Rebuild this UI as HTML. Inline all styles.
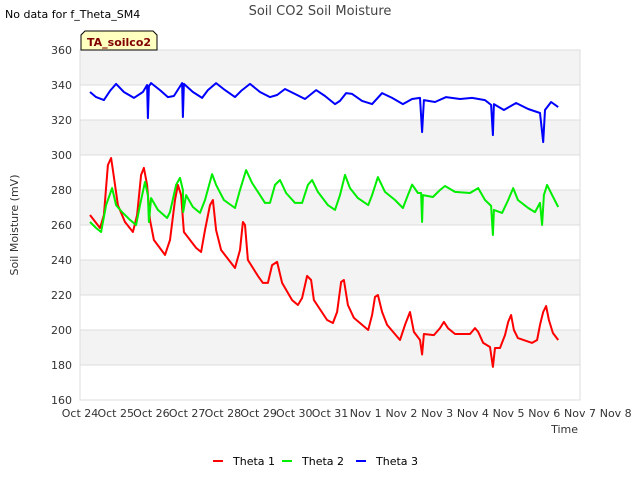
<!DOCTYPE html>
<html><head><meta charset="utf-8"><style>
body{margin:0;background:#fff;font-family:"Liberation Sans","DejaVu Sans",sans-serif}
svg text{font-family:"DejaVu Sans","Liberation Sans",sans-serif}
</style></head><body>
<svg id="c" width="640" height="480" xmlns="http://www.w3.org/2000/svg">
<rect width="640" height="480" fill="#fff"/>
<text x="5" y="18" font-size="11" fill="#000">No data for f_Theta_SM4</text>
<text x="320" y="15" font-size="13" fill="#444" text-anchor="middle">Soil CO2 Soil Moisture</text>
<g id="grid"></g>
<g id="series"></g>
<text transform="translate(18,225) rotate(-90)" font-size="11" fill="#333" text-anchor="middle">Soil Moisture (mV)</text>
<text x="578" y="433" font-size="11" fill="#333" text-anchor="end">Time</text>
<g>
<path d="M81,50 L81,35 L85,31 L153,31 L157,35 L157,50 Z" fill="#ffffc0" stroke="#000" stroke-width="1"/>
<text x="87" y="46" font-size="11" font-weight="bold" fill="#800000">TA_soilco2</text>
</g>
<g id="legend"></g>
</svg>
<script>
const yTicks=[160,180,200,220,240,260,280,300,320,340,360];
const xTickLabels=["Oct 24","Oct 25","Oct 26","Oct 27","Oct 28","Oct 29","Oct 30","Oct 31","Nov 1","Nov 2","Nov 3","Nov 4","Nov 5","Nov 6","Nov 7","Nov 8"];
const seriesNames=["Theta 1","Theta 2","Theta 3"];
const t1=[0.28,0.56,0.67,0.78,0.87,0.92,1.06,1.26,1.48,1.60,1.71,1.79,1.88,1.96,2.07,2.38,2.52,2.66,2.74,2.83,2.91,3.25,3.39,3.50,3.64,3.72,3.81,3.95,4.34,4.48,4.56,4.62,4.70,4.98,5.12,5.26,5.38,5.52,5.66,5.94,6.10,6.22,6.36,6.47,6.55,6.92,7.08,7.20,7.31,7.39,7.50,7.67,8.07,8.18,8.26,8.34,8.46,8.60,8.96,9.10,9.24,9.35,9.52,9.58,9.63,9.91,10.08,10.19,10.30,10.50,10.92,11.06,11.15,11.29,11.48,11.56,11.62,11.76,11.90,11.99,12.07,12.15,12.26,12.66,12.80,12.88,12.97,13.05,13.13,13.24,13.39];
const v1=[265.7,258.3,265.7,294.3,298.3,291.4,271.4,261.7,256,265.7,288.6,292.6,282.9,262.9,251.4,242.9,251.4,274.3,282.9,277.1,256,246.9,244.6,257.1,271.4,274.3,257.1,245.7,235.4,245.7,261.7,260,240,230.9,226.9,226.9,237.1,238.9,226.9,217.1,214.3,218.3,230.9,228.6,217.1,205.7,204,210.3,227.4,228.6,214.3,206.9,200,208.6,218.9,220,210.3,202.9,194.3,202.9,210.3,198.9,194.3,186,197.7,197.1,201.1,204.6,201.1,197.7,197.7,201.1,198.9,192.6,190.3,178.9,189.7,189.7,197.1,204.6,208.6,200,195.4,192.6,194.3,202.9,210.3,213.7,205.7,198.3,194.3];
const t2=[0.28,0.45,0.59,0.73,0.90,1.01,1.18,1.40,1.57,1.68,1.82,1.90,1.93,1.99,2.18,2.44,2.52,2.69,2.80,2.88,2.89,2.97,3.16,3.36,3.50,3.70,3.81,4.03,4.34,4.48,4.65,4.82,5.04,5.18,5.32,5.46,5.60,5.77,6.02,6.22,6.38,6.50,6.66,6.94,7.14,7.28,7.42,7.56,7.78,8.07,8.18,8.34,8.54,8.82,9.04,9.18,9.30,9.46,9.55,9.58,9.60,9.88,10.08,10.22,10.50,10.92,11.15,11.34,11.51,11.56,11.59,11.82,11.99,12.13,12.26,12.55,12.74,12.88,12.94,12.99,13.08,13.22,13.39];
const v2=[261.7,258.3,256,271.4,281.1,271.4,267.4,262.9,260,271.4,284.6,277.1,261.7,275.4,268.6,264,267.4,282.9,286.9,280,267.4,277.1,270.3,266.9,274.3,289.1,282.9,274.3,269.7,280,291.4,284,277.1,272.6,272.6,282.9,285.7,278.3,272.6,272.6,282.9,285.7,278.9,271.4,268.6,277.1,288.6,281.1,275.4,271.4,277.1,287.4,278.9,274.3,269.7,277.1,283.1,278.3,278.3,261.7,277.1,276,280,282.3,278.9,278.3,281.1,274.3,270.9,254.3,268.6,266.9,274.3,281.1,274.3,269.7,267.4,272.6,260,277.1,282.9,277.1,270.3];
const t3=[0.28,0.45,0.67,0.84,1.01,1.23,1.51,1.76,1.88,1.90,1.93,1.99,2.24,2.46,2.63,2.86,2.88,2.91,3.16,3.42,3.58,3.81,4.06,4.34,4.51,4.76,5.04,5.32,5.52,5.74,6.08,6.30,6.61,6.86,7.14,7.28,7.45,7.62,7.90,8.18,8.46,8.74,9.04,9.30,9.52,9.58,9.63,9.94,10.25,10.64,10.98,11.34,11.51,11.56,11.59,11.87,12.21,12.55,12.88,12.97,13.02,13.19,13.39];
const v3=[336,333.1,331.4,336.6,340.6,336,332.6,336,340,321.1,339.4,341.1,337.1,333.1,333.7,341.1,321.7,340.6,336,332.6,337.1,341.1,337.1,333.1,336.6,340.6,336,333.1,334.3,337.7,334.3,332,337.1,333.7,329.1,330.9,335.4,334.9,330.9,329.1,335.4,332.6,329.1,332,332.6,313.1,331.4,330.3,333.1,332,332.6,331.4,328.6,311.4,329.1,325.7,329.7,326.3,324,307.4,325.7,330.3,327.4];
const colors=["#ff0000","#00ee00","#0000ff"];
const X0=80,X1=580,Y0=400,Y1=50;
const xs=d=>X0+(X1-X0)*d/14;
const ys=v=>Y0-(Y0-Y1)*(v-160)/200;
const NS="http://www.w3.org/2000/svg";
function mk(tag,attrs,parent){const e=document.createElementNS(NS,tag);for(const k in attrs)e.setAttribute(k,attrs[k]);parent.appendChild(e);return e;}
const g=document.getElementById('grid');
for(let i=0;i<yTicks.length-1;i++){
  if(i%2===0){const b=mk('rect',{x:X0,y:ys(yTicks[i+1]),width:X1-X0,height:ys(yTicks[i])-ys(yTicks[i+1]),fill:i%4===0?'#ffffff':'#f3f3f3'},g);}
}
for(let i=0;i<yTicks.length-1;i++){
  const r=mk('rect',{x:X0,y:ys(yTicks[i+1]),width:X1-X0,height:ys(yTicks[i])-ys(yTicks[i+1]),fill:(i%2===1)?'#f3f3f3':'#ffffff'},g);
  
  
}
yTicks.forEach(v=>{
  const l=mk('line',{x1:X0,x2:X1,y1:ys(v),y2:ys(v),stroke:'#dddddd','stroke-width':1},g);
  
  
  const t=mk('text',{x:X0-8,y:ys(v)+4,'font-size':11,fill:'#333','text-anchor':'end'},g);
  t.textContent=v;
  
  
});
mk('rect',{x:X0,y:Y1,width:X1-X0,height:Y0-Y1,fill:'none',stroke:'#dddddd'},g);
xTickLabels.forEach((s,i)=>{
  const t=mk('text',{x:xs(i),y:Y0+17,'font-size':11,fill:'#333','text-anchor':'middle'},g);
  t.textContent=s;
  
  
});
const sg=document.getElementById('series');
[[t1,v1],[t2,v2],[t3,v3]].forEach((d,k)=>{
  const pts=d[0].map((t,i)=>xs(t).toFixed(1)+','+ys(d[1][i]).toFixed(1)).join(' ');
  const p=mk('polyline',{points:pts,fill:'none',stroke:colors[k],'stroke-width':2,'stroke-linejoin':'round'},sg);
  
  
});
const lg=document.getElementById('legend');
const lx=[213,282,356];
seriesNames.forEach((n,k)=>{
  const l=mk('line',{x1:lx[k],x2:lx[k]+10,y1:461,y2:461,stroke:colors[k],'stroke-width':2},lg);
  
  
  const t=mk('text',{x:lx[k]+20,y:465,'font-size':11,fill:'#000'},lg);
  t.textContent=n;
  
  
});
</script>
</body></html>
